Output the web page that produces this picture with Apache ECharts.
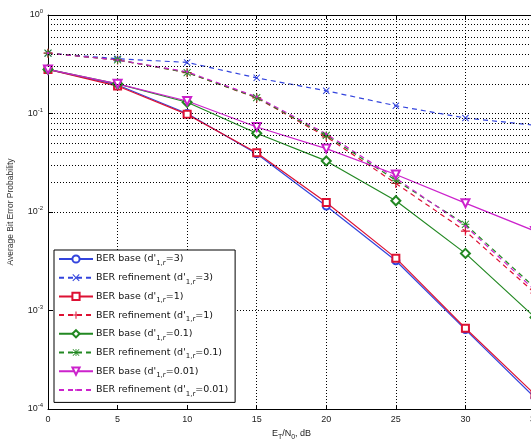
<!DOCTYPE html>
<html>
<head>
<meta charset="utf-8">
<script src="https://cdn.jsdelivr.net/npm/echarts@6/dist/echarts.min.js"></script>
<style>
html,body{margin:0;padding:0;background:#fff;}
#ber{width:531px;height:442px;}
</style>
</head>
<body>
<div id="ber"></div>
<script>
// 数据
var snr = [0, 5, 10, 15, 20, 25, 30, 35];
var base3 = [0.28, 0.195, 0.1, 0.039, 0.0115, 0.0032, 0.00064, 0.00013];
var ref3 = [0.41, 0.36, 0.33, 0.23, 0.17, 0.12, 0.09, 0.076];
var base1 = [0.28, 0.19, 0.098, 0.04, 0.0125, 0.0034, 0.00066, 0.00014];
var ref1 = [0.41, 0.35, 0.26, 0.144, 0.058, 0.0195, 0.0064, 0.0015];
var base01 = [0.28, 0.2, 0.13, 0.063, 0.033, 0.013, 0.0038, 0.00085];
var ref01 = [0.41, 0.35, 0.26, 0.145, 0.06, 0.021, 0.0075, 0.0017];
var base001 = [0.28, 0.2, 0.134, 0.073, 0.044, 0.024, 0.0123, 0.0064];
var ref001 = [0.41, 0.35, 0.265, 0.148, 0.062, 0.022, 0.0072, 0.0016];
var decades = [1e-4, 1e-3, 1e-2, 1e-1];
var minorMul = [2, 3, 4, 5, 6, 7, 8, 9];

var SYM_X = 'path://M0,1L1,0L5,4L9,0L10,1L6,5L10,9L9,10L5,6L1,10L0,9L4,5Z';
var SYM_PLUS = 'path://M4.3,0H5.7V4.3H10V5.7H5.7V10H4.3V5.7H0V4.3H4.3Z';
var SYM_STAR = 'path://M4.4,0H5.6V10H4.4Z M0,4.4H10V5.6H0Z M1,0.2L9.8,9L9,9.8L0.2,1Z M9,0.2L9.8,1L1,9.8L0.2,9Z';
// 小点, 用不可见的角点撑开外框
var SYM_DOT = 'path://M0,0h0.01v0.01h-0.01Z M10,10h0.01v0.01h-0.01Z M3.6,5a1.4,1.4 0 1,0 2.8,0a1.4,1.4 0 1,0 -2.8,0Z';

var cB = '#3344dd', cR = '#dd1133', cG = '#228822', cM = '#cc22cc';

function pairs(arr){
    var out = [];
    for (var i = 0; i < snr.length; i++) out.push([snr[i], arr[i]]);
    return out;
}
// 次网格线
var minorLines = [];
for (var d = 0; d < decades.length; d++){
    for (var k = 0; k < minorMul.length; k++){
        minorLines.push({yAxis: decades[d] * minorMul[k]});
    }
}

var labels = {
    'b3': "BER base (d'{s|1,r}=3)",
    'r3': "BER refinement (d'{s|1,r}=3)",
    'b1': "BER base (d'{s|1,r}=1)",
    'r1': "BER refinement (d'{s|1,r}=1)",
    'b01': "BER base (d'{s|1,r}=0.1)",
    'r01': "BER refinement (d'{s|1,r}=0.1)",
    'b001': "BER base (d'{s|1,r}=0.01)",
    'r001': "BER refinement (d'{s|1,r}=0.01)"
};

function mk(name, data, color, dashed, symbol, size, rotate){
    return {
        name: name,
        type: 'line',
        data: pairs(data),
        symbol: symbol,
        symbolSize: size,
        symbolRotate: rotate || 0,
        showAllSymbol: true,
        clip: false,
        lineStyle: {color: color, width: 1.2, type: dashed ? [5, 4] : 'solid'},
        itemStyle: {color: color, borderWidth: 1.2},
        z: 3
    };
}

var chart = echarts.init(document.getElementById('ber'));
var series = [
    mk('b3', base3, cB, false, 'emptyCircle', 7),
    mk('r3', ref3, cB, true, SYM_X, 7),
    mk('b1', base1, cR, false, 'emptyRect', 7),
    mk('r1', ref1, cR, true, SYM_PLUS, 9),
    mk('b01', base01, cG, false, 'emptyDiamond', 9),
    mk('r01', ref01, cG, true, SYM_STAR, 8),
    mk('b001', base001, cM, false, 'emptyTriangle', 8, 180),
    mk('r001', ref001, cM, true, SYM_DOT, 9)
];
series.push({
    type: 'line',
    data: [],
    silent: true,
    z: 1,
    markLine: {
        silent: true,
        symbol: 'none',
        label: {show: false},
        lineStyle: {color: '#000', type: [1, 2], width: 1},
        data: minorLines
    }
});

var option = {
    animation: false,
    backgroundColor: '#fff',
    grid: {left: 48, top: 15, right: -4, bottom: 33, outerBoundsMode: 'none', containLabel: false},
    textStyle: {fontFamily: 'Liberation Sans, Arial, sans-serif'},
    legend: {
        orient: 'vertical',
        left: 54,
        top: 250,
        padding: [4, 7, 5, 4],
        itemWidth: 34,
        itemHeight: 9,
        itemGap: 6.2,
        backgroundColor: '#fff',
        borderColor: '#000',
        borderWidth: 1,
        data: ['b3', 'r3', 'b1', 'r1', 'b01', 'r01', 'b001', 'r001'],
        formatter: function(n){ return labels[n]; },
        textStyle: {
            fontFamily: 'DejaVu Sans',
            fontSize: 9.5,
            color: '#111',
            padding: [0, 0, 0, -2],
            rich: {s: {fontFamily: 'DejaVu Sans', fontSize: 7, padding: [8, 0, 0, 0], color: '#111'}}
        }
    },
    xAxis: [{
        type: 'value',
        min: 0,
        max: 35,
        interval: 5,
        name: 'E{s|T}/N{s|0}, dB',
        nameLocation: 'middle',
        nameGap: 17,
        nameTextStyle: {fontSize: 9, color: '#222', rich: {s: {fontSize: 7, padding: [7, 0, 0, 0], color: '#222'}}},
        axisLine: {show: true, lineStyle: {color: '#000', width: 1}},
        axisTick: {show: true, inside: true, length: 4, lineStyle: {color: '#000'}},
        axisLabel: {fontSize: 9, color: '#222', margin: 6},
        splitLine: {show: true, lineStyle: {color: '#000', type: [1, 2], width: 1}}
    }, {
        type: 'value',
        position: 'top',
        min: 0,
        max: 35,
        interval: 5,
        axisLine: {show: true, lineStyle: {color: '#000', width: 1}},
        axisTick: {show: true, inside: true, length: 4, lineStyle: {color: '#000'}},
        axisLabel: {show: false},
        splitLine: {show: false}
    }],
    yAxis: [{
        type: 'log',
        logBase: 10,
        min: 1e-4,
        max: 1,
        name: 'Average Bit Error Probability',
        nameLocation: 'middle',
        nameRotate: 90,
        nameGap: 33,
        nameTextStyle: {fontSize: 8.5, color: '#333'},
        axisLine: {show: true, lineStyle: {color: '#000', width: 1}},
        axisTick: {show: true, inside: true, length: 5, lineStyle: {color: '#000'}},
        axisLabel: {
            fontSize: 9,
            color: '#222',
            margin: 5,
            formatter: function(v){
                return '10{p|' + Math.round(Math.log10(v)) + '}';
            },
            rich: {p: {fontSize: 6, padding: [0, 0, 7, 0], color: '#222'}}
        },
        splitLine: {show: true, lineStyle: {color: '#000', type: [1, 2], width: 1}}
    }],
    series: series
};
chart.setOption(option);
</script>
</body>
</html>
